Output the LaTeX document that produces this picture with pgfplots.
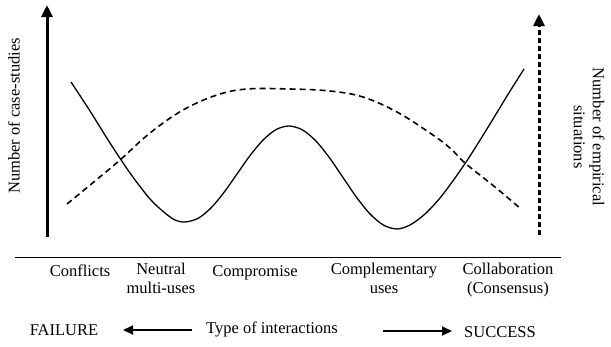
\documentclass[border=0pt]{standalone}
\usepackage{pgfplots}
\pgfplotsset{compat=1.18}
\usetikzlibrary{arrows.meta}
\usepackage{fontspec}
\setmainfont{Liberation Serif}
\begin{document}
\begin{tikzpicture}[every node/.style={font=\fontsize{16.5}{19}\selectfont, inner sep=0pt}]
\begin{axis}[
  scale only axis, width=611pt, height=346pt,
  xmin=0, xmax=611, ymin=0, ymax=346, y dir=reverse,
  hide axis, clip=false]
% frame for bounding box
\addplot[draw=none] coordinates {(0,0) (611,346)};
% solid curve: number of case-studies
\addplot[black, line width=1.3pt, smooth, tension=0.5] coordinates {
(71,82) (90,111) (110,143) (130,173) (150,199) (165,213) (175,220) (185,222)
(198,218.4) (211,207.9) (224,192.4) (237,174) (250,155.6) (263,140.1) (276,129.6) (289,126)
(302.5,129.9) (316,141.1) (329.5,157.8) (343,177.5) (356.5,197.2) (370,213.9) (383.5,225.1) (397,229)
(410,225) (425,214) (440,198) (455,178) (470,156) (490,124) (507,96) (524,69)};
% dashed curve: number of empirical situations
\addplot[black, line width=1.6pt, dash pattern=on 6pt off 4pt, smooth, tension=0.6] coordinates {
(67,204) (95,181) (120,160) (150,133) (183,110) (217,95) (247,89) (290,89)
(330,91) (363,97) (397,112) (430,133) (450,148) (465,163) (495,187) (521,209)};
% left axis arrow
\addplot[black, line width=3pt, -{Triangle[length=12pt,width=11pt]}] coordinates {(47,237) (47,5)};
% right dashed axis arrow
\addplot[black, line width=3pt, dash pattern=on 5pt off 3pt, -{Triangle[length=12pt,width=11pt]}] coordinates {(539,235) (539,14)};
% baseline
\addplot[black, line width=1pt] coordinates {(15,257) (561,257)};
% bottom arrows
\addplot[black, line width=2pt, -{Triangle[length=10pt,width=9pt]}] coordinates {(192,330) (123,330)};
\addplot[black, line width=2pt, -{Triangle[length=10pt,width=9pt]}] coordinates {(383,331) (452,331)};
% labels
\node[rotate=90] at (axis cs:14,116) {Number of case-studies};
\node[rotate=-90, align=center] at (axis cs:589,137) {Number of empirical\\situations};
\node[anchor=base] at (axis cs:80,276) {Conflicts};
\node[align=center, anchor=north] at (axis cs:161,263) {Neutral\\multi-uses};
\node[anchor=base] at (axis cs:255,276) {Compromise};
\node[align=center, anchor=north] at (axis cs:384,263) {Complementary\\uses};
\node[align=center, anchor=north] at (axis cs:508,263) {Collaboration\\(Consensus)};
\node[anchor=base] at (axis cs:64,335) {FAILURE};
\node[anchor=base] at (axis cs:272,333) {Type of interactions};
\node[anchor=base] at (axis cs:500,337) {SUCCESS};
\end{axis}
\end{tikzpicture}
\end{document}
